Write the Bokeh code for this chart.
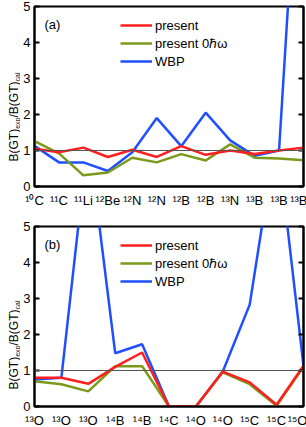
import math
from bokeh.plotting import figure
from bokeh.models import (Range1d, LinearAxis, FixedTicker, Span, Label, Legend, LegendItem,
                          GlobalInlineStyleSheet)
from bokeh.layouts import column, row
from bokeh.core.properties import value
from bokeh.embed import file_html
from bokeh.resources import INLINE

# ---- data ----
cats_a = ["¹⁰C", "¹¹C", "¹¹Li", "¹²Be", "¹²N", "¹²N", "¹²B", "¹²B", "¹³N", "¹³B", "¹³B", "¹³B"]
present_a = [1.05, 0.95, 1.08, 0.82, 1.02, 0.82, 1.12, 0.88, 1.00, 0.90, 1.00, 1.08]
present0_a = [1.26, 0.92, 0.31, 0.39, 0.80, 0.67, 0.90, 0.72, 1.17, 0.80, 0.78, 0.73]
wbp_a = [1.13, 0.67, 0.67, 0.43, 0.95, 1.90, 1.12, 2.05, 1.28, 0.85, 1.00, 12.0]

cats_b = ["¹³O", "¹³O", "¹³O", "¹⁴B", "¹⁴B", "¹⁴C", "¹⁴O", "¹⁴O", "¹⁵C", "¹⁵C", "¹⁵O"]
present_b = [0.80, 0.80, 0.63, 1.10, 1.50, 0.00, 0.00, 0.97, 0.67, 0.05, 1.13]
present0_b = [0.70, 0.62, 0.42, 1.12, 1.12, 0.00, 0.00, 0.95, 0.62, 0.02, 1.10]
wbp_b = [0.75, 0.80, 7.5, 1.48, 1.73, 0.00, 0.00, 0.97, 2.83, 7.6, 1.13]

y_ticks = [0, 1, 2, 3, 4, 5]
series_names = ["present", "present 0ℏω", "WBP"]
panel_tags = ["(a)", "(b)"]
ylabel_parts = ["B(GT)", "exp", "/B(GT)", "cal"]

RED = "#ff1f1f"
GREEN = "#7b9a1a"
BLUE = "#1f4fff"
FONT = "Liberation Sans"
LABEL_W = 20


def make_ylabel(total_h, start_y):
    """Narrow figure holding the rotated y-axis title (with subscripts)."""
    q = figure(frame_width=LABEL_W, frame_height=total_h,
               x_range=Range1d(0, LABEL_W), y_range=Range1d(0, total_h),
               output_backend="svg", toolbar_location=None,
               min_border=0, min_border_left=0, min_border_right=0,
               min_border_top=0, min_border_bottom=0,
               x_axis_type=None, y_axis_type=None,
               background_fill_color="white", border_fill_color="white")
    q.grid.visible = False
    q.outline_line_color = None
    main_fs, sub_fs = 12, 7
    widths = [32.7, 11.3, 36.0, 9.0]
    sizes = [main_fs, sub_fs, main_fs, sub_fs]
    xs = [13.5, 17.0, 13.5, 17.0]
    pos = start_y
    for txt, fs, x, w in zip(ylabel_parts, sizes, xs, widths):
        q.text(x=[x], y=[pos], text=[txt], angle=math.pi / 2,
               text_font=value(FONT), text_font_size=value(f"{fs}px"),
               text_align="left", text_baseline="alphabetic", text_color="black")
        pos += w
    return q


def make_panel(cats, red, green, blue, tag, top_border, bottom_border, frame_h):
    n = len(cats)
    xs = list(range(n))
    p = figure(frame_width=269, frame_height=frame_h,
               x_range=Range1d(0, n - 1), y_range=Range1d(0, 5),
               output_backend="svg", toolbar_location=None,
               min_border_left=33 - LABEL_W, min_border_right=4,
               min_border_top=top_border, min_border_bottom=bottom_border,
               background_fill_color="white", border_fill_color="white")
    p.grid.visible = False
    p.outline_line_color = "black"
    p.outline_line_width = 2

    # bottom axis
    xa = p.xaxis[0]
    xa.ticker = FixedTicker(ticks=xs)
    xa.major_label_overrides = {i: c for i, c in enumerate(cats)}
    xa.major_tick_in = 0
    xa.major_tick_out = 0
    xa.minor_tick_line_color = None
    xa.axis_line_width = 2
    xa.major_label_standoff = 6
    xa.major_label_text_font = FONT
    xa.major_label_text_font_size = "13px"
    xa.major_label_text_color = "black"

    # left axis
    ya = p.yaxis[0]
    ya.ticker = FixedTicker(ticks=y_ticks)
    ya.major_tick_in = 5
    ya.major_tick_out = 0
    ya.major_tick_line_width = 2
    ya.minor_tick_line_color = None
    ya.axis_line_width = 2
    ya.major_label_standoff = 4
    ya.major_label_text_font = FONT
    ya.major_label_text_font_size = "13px"
    ya.major_label_text_color = "black"

    # right axis (ticks only)
    ra = LinearAxis(ticker=FixedTicker(ticks=y_ticks))
    ra.major_tick_in = 5
    ra.major_tick_out = 0
    ra.major_tick_line_width = 2
    ra.minor_tick_line_color = None
    ra.axis_line_width = 2
    ra.major_label_standoff = 0
    ra.major_label_text_font_size = "0px"
    ra.major_label_overrides = {t: "" for t in y_ticks}
    p.add_layout(ra, "right")

    p.add_layout(Span(location=1, dimension="width", line_color="#555555", line_width=1))

    rb = p.line(xs, blue, line_color=BLUE, line_width=2.5)
    rg = p.line(xs, green, line_color=GREEN, line_width=2.5)
    rr = p.line(xs, red, line_color=RED, line_width=2.5)

    leg = Legend(items=[LegendItem(label=series_names[0], renderers=[rr]),
                        LegendItem(label=series_names[1], renderers=[rg]),
                        LegendItem(label=series_names[2], renderers=[rb])],
                 location=(86, frame_h - 14 - 49), glyph_width=32, glyph_height=16,
                 label_height=16, spacing=1, padding=0, margin=0, label_standoff=3,
                 border_line_alpha=0, background_fill_alpha=0,
                 label_text_font=FONT, label_text_font_size="13px",
                 label_text_color="black")
    p.add_layout(leg)

    p.add_layout(Label(x=0, y=5, x_offset=10, y_offset=-18, text=tag,
                       text_font=FONT, text_font_size="13px", text_baseline="middle",
                       text_color="black"))
    return p


top_a, bot_a, fh_a = 6, 26, 180
top_b, bot_b, fh_b = 14, 20, 180
pa = make_panel(cats_a, present_a, present0_a, wbp_a, panel_tags[0], top_a, bot_a, fh_a)
pb = make_panel(cats_b, present_b, present0_b, wbp_b, panel_tags[1], top_b, bot_b, fh_b)
la = make_ylabel(top_a + fh_a + bot_a, bot_a + 31)
lb = make_ylabel(top_b + fh_b + bot_b, bot_b + 31)

page_css = GlobalInlineStyleSheet(css="html, body { margin: 0 !important; padding: 0 !important; overflow: hidden; }")
layout = column(row(la, pa, spacing=0), row(lb, pb, spacing=0), spacing=0, stylesheets=[page_css])
open("out.html", "w").write(file_html(layout, INLINE))
